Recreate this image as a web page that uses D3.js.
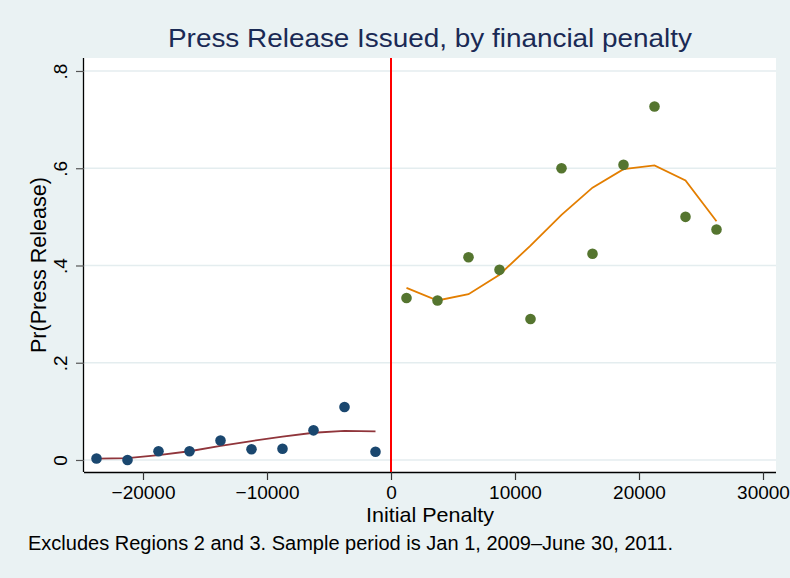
<!DOCTYPE html>
<html>
<head>
<meta charset="utf-8">
<script src="https://cdn.jsdelivr.net/npm/d3@7"></script>
<style>
  html, body { margin: 0; padding: 0; background: #EAF2F3; }
  svg { display: block; font-family: "Liberation Sans", Arial, Helvetica, sans-serif; }
</style>
</head>
<body>
<svg id="chart" width="790" height="578"></svg>
<script>
// ---- Data ----
const leftBins = [-23750, -21250, -18750, -16250, -13750, -11250, -8750, -6250, -3750, -1250];
const leftMeans = [0.003, 0.000, 0.018, 0.018, 0.040, 0.022, 0.023, 0.061, 0.109, 0.017];
const leftFit = [0.003, 0.004, 0.010, 0.018, 0.029, 0.039, 0.048, 0.056, 0.060, 0.059];

const rightBins = [1250, 3750, 6250, 8750, 11250, 13750, 16250, 18750, 21250, 23750, 26250];
const rightMeans = [0.333, 0.328, 0.417, 0.391, 0.290, 0.600, 0.424, 0.607, 0.727, 0.500, 0.474];
const rightFit = [0.354, 0.328, 0.341, 0.381, 0.441, 0.504, 0.560, 0.598, 0.606, 0.575, 0.491];

const xTicks = [-20000, -10000, 0, 10000, 20000, 30000];
const yTicks = [0, 0.2, 0.4, 0.6, 0.8];
const yTickLabels = ["0", ".2", ".4", ".6", ".8"];
const cutoff = 0;

const titleText = "Press Release Issued, by financial penalty";
const xTitle = "Initial Penalty";
const yTitle = "Pr(Press Release)";
const noteText = "Excludes Regions 2 and 3. Sample period is Jan 1, 2009\u2013June 30, 2011.";

// ---- Layout ----
const plot = { left: 84, right: 776, top: 58, bottom: 472 };
const svg = d3.select("#chart");

svg.append("rect").attr("width", 790).attr("height", 578).attr("fill", "#EAF2F3");

const x = d3.scaleLinear().domain([-24758, 31048]).range([plot.left, plot.right]);
const y = d3.scaleLinear().domain([-0.0247, 0.8267]).range([plot.bottom, plot.top]);

// plot region
svg.append("rect")
  .attr("x", plot.left).attr("y", plot.top)
  .attr("width", plot.right - plot.left).attr("height", plot.bottom - plot.top)
  .attr("fill", "#ffffff");

// gridlines
svg.append("g").selectAll("line").data(yTicks).join("line")
  .attr("x1", plot.left).attr("x2", plot.right)
  .attr("y1", d => y(d)).attr("y2", d => y(d))
  .attr("stroke", "#E4EDEF").attr("stroke-width", 1.6);

// axes
const xAxis = d3.axisBottom(x).tickValues(xTicks).tickSize(8).tickPadding(6)
  .tickFormat(d => d < 0 ? "\u2212" + Math.abs(d) : String(d));
const gx = svg.append("g").attr("transform", `translate(0,${plot.bottom})`).call(xAxis);
gx.attr("font-family", null);
gx.select(".domain").attr("d", `M${plot.left},0.5H${plot.right}`).attr("stroke", "#000").attr("stroke-width", 1.3);
gx.selectAll(".tick line").attr("stroke", "#333").attr("stroke-width", 1.2);
gx.selectAll(".tick text").attr("font-size", 19).attr("fill", "#000")
  .attr("dy", null).attr("y", 27);

const yAxis = d3.axisLeft(y).tickValues(yTicks).tickSize(8).tickPadding(0)
  .tickFormat((d, i) => yTickLabels[i]);
const gy = svg.append("g").attr("transform", `translate(${plot.left},0)`).call(yAxis);
gy.attr("font-family", null);
gy.select(".domain").attr("d", `M-0.5,${plot.top}V${plot.bottom}`).attr("stroke", "#000").attr("stroke-width", 1.3);
gy.selectAll(".tick line").attr("stroke", "#555").attr("stroke-width", 1.2);
gy.selectAll(".tick text")
  .attr("font-size", 19).attr("fill", "#000")
  .attr("x", null).attr("dy", null)
  .attr("text-anchor", "middle")
  .attr("transform", "translate(-17.5,0) rotate(-90)");

// cutoff line
svg.append("line")
  .attr("x1", x(cutoff)).attr("x2", x(cutoff))
  .attr("y1", plot.top).attr("y2", plot.bottom)
  .attr("stroke", "#ff0000").attr("stroke-width", 2);

// fitted lines
const line = d3.line().x(d => x(d[0])).y(d => y(d[1]));
svg.append("path").datum(d3.zip(leftBins, leftFit))
  .attr("d", line).attr("fill", "none").attr("stroke", "#90353B").attr("stroke-width", 1.8);
svg.append("path").datum(d3.zip(rightBins, rightFit))
  .attr("d", line).attr("fill", "none").attr("stroke", "#E37E00").attr("stroke-width", 1.8);

// points
svg.append("g").selectAll("circle").data(d3.zip(leftBins, leftMeans)).join("circle")
  .attr("cx", d => x(d[0])).attr("cy", d => y(d[1])).attr("r", 5.3).attr("fill", "#1A476F");
svg.append("g").selectAll("circle").data(d3.zip(rightBins, rightMeans)).join("circle")
  .attr("cx", d => x(d[0])).attr("cy", d => y(d[1])).attr("r", 5.3).attr("fill", "#55752F");

// titles
svg.append("text").text(titleText)
  .attr("x", (plot.left + plot.right) / 2).attr("y", 46.5)
  .attr("text-anchor", "middle").attr("font-size", 26.5).attr("fill", "#1A2A55")
  .attr("textLength", 524).attr("lengthAdjust", "spacingAndGlyphs");

svg.append("text").text(xTitle)
  .attr("x", (plot.left + plot.right) / 2).attr("y", 521.5)
  .attr("text-anchor", "middle").attr("font-size", 21).attr("fill", "#000")
  .attr("textLength", 128).attr("lengthAdjust", "spacingAndGlyphs");

svg.append("text").text(yTitle)
  .attr("transform", `translate(45.5,${(plot.top + plot.bottom) / 2}) rotate(-90)`)
  .attr("text-anchor", "middle").attr("font-size", 22.5).attr("fill", "#000")
  .attr("textLength", 176).attr("lengthAdjust", "spacingAndGlyphs");

svg.append("text").text(noteText)
  .attr("x", 28).attr("y", 550)
  .attr("font-size", 20).attr("fill", "#000")
  .attr("textLength", 645).attr("lengthAdjust", "spacingAndGlyphs");
</script>
</body>
</html>
